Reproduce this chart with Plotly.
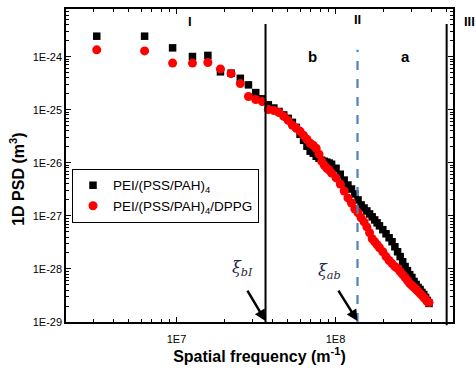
import math
import plotly.graph_objects as go

# ---- data ----
freq = [3.15e6, 6.3e6, 9.45e6, 1.26e7, 1.575e7, 1.89e7, 2.205e7, 2.52e7, 2.835e7, 3.15e7,
        3.465e7, 3.78e7, 4.095e7, 4.41e7, 4.725e7, 5.04e7, 5.355e7, 5.67e7, 5.985e7, 6.3e7,
        6.615e7, 6.93e7, 7.245e7, 7.56e7, 7.875e7, 8.19e7, 8.505e7, 8.82e7, 9.135e7, 9.45e7,
        1.008e8, 1.071e8, 1.134e8, 1.197e8, 1.26e8, 1.323e8, 1.386e8, 1.449e8, 1.512e8, 1.575e8,
        1.638e8, 1.701e8, 1.764e8, 1.827e8, 1.89e8,
        1.9845e8, 2.079e8, 2.1735e8, 2.268e8, 2.3625e8, 2.457e8, 2.5515e8, 2.646e8, 2.7405e8,
        2.835e8, 2.9295e8, 3.024e8, 3.1185e8, 3.213e8, 3.3075e8, 3.402e8, 3.4965e8, 3.591e8,
        3.6855e8, 3.78e8, 3.8745e8]

psd_pss_pah = [2.44e-24, 2.44e-24, 1.47e-24, 1.01e-24, 1.06e-24, 5.2e-25, 4.9e-25, 3.92e-25, 2.95e-25, 2.11e-25,
               1.61e-25, 1.24e-25, 1.08e-25, 9.3e-26, 8.0e-26, 6.9e-26, 5.8e-26, 4.67e-26, 3.45e-26, 2.66e-26,
               2.06e-26, 1.66e-26, 1.52e-26, 1.33e-26, 1.22e-26, 1.12e-26, 1.07e-26, 1.03e-26, 9.9e-27, 9.4e-27,
               7.9e-27, 6.1e-27, 4.73e-27, 3.82e-27, 3.21e-27, 2.59e-27, 2.0e-27, 1.61e-27, 1.41e-27, 1.24e-27,
               1.09e-27, 9.6e-28, 8.4e-28, 7.4e-28, 6.5e-28,
               5.5e-28, 4.6e-28, 3.87e-28, 3.26e-28, 2.62e-28, 2.11e-28, 1.71e-28, 1.37e-28, 1.11e-28,
               9.3e-29, 7.8e-29, 6.9e-29, 5.8e-29, 5.1e-29, 4.48e-29, 4.1e-29, 3.61e-29, 3.3e-29,
               2.9e-29, 2.55e-29, 2.24e-29]

psd_dppg = [1.35e-24, 1.29e-24, 7.6e-25, 7.6e-25, 7.8e-25, 5.9e-25, 4.8e-25, 3.12e-25, 1.78e-25, 1.56e-25,
            1.43e-25, 1.01e-25, 9.7e-26, 8.9e-26, 7.5e-26, 6.3e-26, 5.1e-26, 4.47e-26, 3.93e-26, 3.3e-26,
            2.78e-26, 2.34e-26, 2.14e-26, 1.88e-26, 1.46e-26, 1.07e-26, 9.0e-27, 7.9e-27, 7.3e-27, 6.4e-27,
            5.2e-27, 3.98e-27, 2.94e-27, 2.18e-27, 1.75e-27, 1.35e-27, 1.14e-27, 9.2e-28, 7.7e-28, 6.2e-28,
            4.81e-28, 3.71e-28, 3.26e-28, 2.86e-28, 2.51e-28,
            2.11e-28, 1.71e-28, 1.44e-28, 1.26e-28, 1.11e-28, 1.02e-28, 8.9e-29, 7.8e-29, 6.9e-29,
            6.05e-29, 5.3e-29, 4.88e-29, 4.48e-29, 4.1e-29, 3.77e-29, 3.45e-29, 3.17e-29, 2.9e-29,
            2.67e-29, 2.44e-29, 2.34e-29]

series_names = ["PEI/(PSS/PAH)<sub>4</sub>", "PEI/(PSS/PAH)<sub>4</sub>/DPPG"]

x_tickvals = [1e7, 1e8]
x_ticktext = ["1E7", "1E8"]
y_tickvals = [1e-29, 1e-28, 1e-27, 1e-26, 1e-25, 1e-24]
y_ticktext = ["1E-29", "1E-28", "1E-27", "1E-26", "1E-25", "1E-24"]

xi_bI = 3.63e7    # boundary I / b
xi_ab = 1.375e8   # boundary b / a
xi_III = 5.0e8    # boundary a / III

FONT = "Liberation Sans, Arial, sans-serif"

x_minor = [m * 10 ** e for e in range(6, 9) for m in range(2, 10)]
y_minor = [m * 10.0 ** e for e in range(-29, -23) for m in range(2, 10)]

fig = go.Figure()
fig.add_trace(go.Scatter(x=freq, y=psd_pss_pah, mode="markers", name=series_names[0],
                         marker=dict(symbol="square", size=7.5, color="black")))
fig.add_trace(go.Scatter(x=freq, y=psd_dppg, mode="markers", name=series_names[1],
                         marker=dict(symbol="circle", size=9, color="#ff0000")))

axis_common = dict(showline=True, linecolor="black", linewidth=1.5, mirror="allticks",
                   ticks="inside", ticklen=5, tickwidth=1.2, tickcolor="black",
                   showgrid=False, zeroline=False,
                   tickfont=dict(family=FONT, size=11, color="black"))

fig.update_xaxes(type="log", range=[6.305, 8.739], tickmode="array",
                 tickvals=x_tickvals, ticktext=x_ticktext, ticklabelstandoff=6,
                 minor=dict(tickmode="array", tickvals=x_minor, ticks="inside", ticklen=3,
                            tickcolor="black", tickwidth=1),
                 title=dict(text="<b>Spatial frequency (m<sup>-1</sup>)</b>",
                            font=dict(family=FONT, size=16, color="black"), standoff=6),
                 **axis_common)
fig.update_yaxes(type="log", range=[-29.0, -23.1], tickmode="array",
                 tickvals=y_tickvals, ticktext=y_ticktext,
                 minor=dict(tickmode="array", tickvals=y_minor, ticks="inside", ticklen=3,
                            tickcolor="black", tickwidth=1),
                 **axis_common)

# y-axis title (placed as in the reference, a little below the plot centre)
fig.add_annotation(x=-0.127, y=0.457, xref="paper", yref="paper",
                   text="<b>1D PSD (m<sup>3</sup>)</b>", textangle=-90,
                   font=dict(family=FONT, size=16, color="black"),
                   xanchor="center", yanchor="middle", showarrow=False)

# region boundaries
fig.add_shape(type="line", xref="x", yref="paper", x0=xi_bI, x1=xi_bI, y0=0, y1=0.952,
              line=dict(color="black", width=2))
fig.add_shape(type="line", xref="x", yref="paper", x0=xi_ab, x1=xi_ab, y0=0, y1=0.87,
              line=dict(color="#4f81bd", width=2.2, dash="dash"))
fig.add_shape(type="line", xref="x", yref="paper", x0=xi_III, x1=xi_III, y0=-0.01, y1=0.952,
              line=dict(color="black", width=2))

anc = dict(xanchor="center", yanchor="middle", showarrow=False)
lab = dict(font=dict(family=FONT, size=13, color="black"), **anc)
fig.add_annotation(x=math.log10(1.22e7), y=0.959, xref="x", yref="paper", text="<b>I</b>", **lab)
fig.add_annotation(x=math.log10(xi_ab), y=0.965, xref="x", yref="paper", text="<b>II</b>", **lab)
fig.add_annotation(x=1.043, y=0.959, xref="paper", yref="paper", text="<b>III</b>", **lab)
lab2 = dict(font=dict(family=FONT, size=15, color="black"), **anc)
fig.add_annotation(x=math.log10(7.2e7), y=0.848, xref="x", yref="paper", text="<b>b</b>", **lab2)
fig.add_annotation(x=math.log10(2.74e8), y=0.848, xref="x", yref="paper", text="<b>a</b>", **lab2)

xi_font = dict(family="DejaVu Serif, Liberation Serif, serif", size=16, color="#1f2a44")
fig.add_annotation(x=math.log10(2.6e7), y=0.17, xref="x", yref="paper",
                   text="<i>ξ<sub>bI</sub></i>", font=xi_font, **anc)
fig.add_annotation(x=math.log10(9.2e7), y=0.16, xref="x", yref="paper",
                   text="<i>ξ<sub>ab</sub></i>", font=xi_font, **anc)
fig.add_annotation(x=math.log10(xi_bI), y=0.003, xref="x", yref="paper", text="",
                   showarrow=True, arrowhead=2, arrowsize=0.9, arrowwidth=2.5, arrowcolor="black",
                   ax=-19, ay=-32)
fig.add_annotation(x=math.log10(xi_ab), y=0.003, xref="x", yref="paper", text="",
                   showarrow=True, arrowhead=2, arrowsize=0.9, arrowwidth=2.5, arrowcolor="black",
                   ax=-20, ay=-32)

fig.update_layout(
    width=476, height=377,
    margin=dict(l=66, r=23, t=7, b=55),
    paper_bgcolor="white", plot_bgcolor="white",
    font=dict(family=FONT, color="black"),
    legend=dict(x=0.0155, y=0.489, xanchor="left", yanchor="top",
                bgcolor="white", bordercolor="black", borderwidth=1,
                font=dict(family=FONT, size=13.5, color="black"),
                tracegroupgap=0),
)

fig.write_html("out.html")
